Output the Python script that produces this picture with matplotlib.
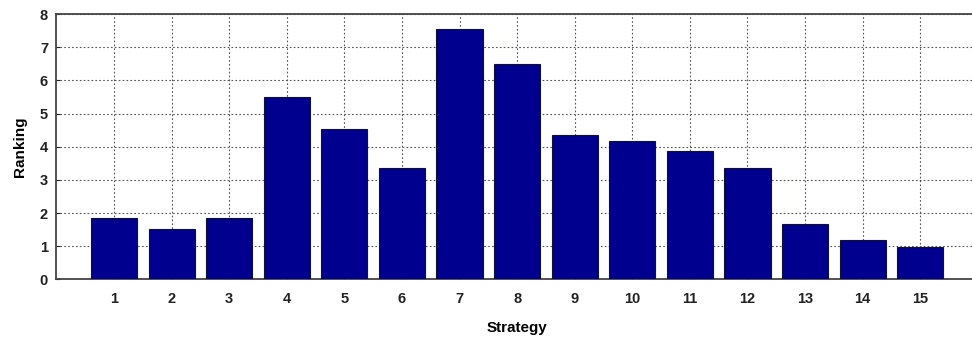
import matplotlib.pyplot as plt
import numpy as np

# Ranking per strategy
strategies = np.arange(1, 16)
ranking = [1.84, 1.51, 1.84, 5.51, 4.52, 3.35, 7.54, 6.51, 4.35, 4.17, 3.87, 3.35, 1.68, 1.18, 0.98]
y_ticks = list(range(0, 9))

plt.rcParams['font.family'] = ['Liberation Sans', 'DejaVu Sans']

fig = plt.figure(figsize=(9.72, 3.44), dpi=100)
ax = fig.add_axes([0.058, 0.188, 0.948, 0.771])

ax.bar(strategies, ranking, width=0.8, color="#00008F", edgecolor="#101030", linewidth=0.8, zorder=3)

ax.set_xlim(0, 16)
ax.set_ylim(0, 8)
ax.set_xticks(strategies)
ax.set_yticks(y_ticks)
ax.tick_params(axis="both", direction="in", length=3, labelsize=10.5, colors="#222222")
ax.tick_params(axis="x", pad=9)
ax.tick_params(axis="y", pad=6)
for lab in ax.get_xticklabels() + ax.get_yticklabels():
    lab.set_fontweight("bold")

ax.grid(True, linestyle=(0, (1.5, 2)), color="#555555", linewidth=0.8, zorder=0)

for side in ["left", "bottom", "top", "right"]:
    ax.spines[side].set_color("#444444")
    ax.spines[side].set_linewidth(1.3)

ax.set_xlabel("Strategy", fontsize=11, fontweight="bold", labelpad=11)
ax.set_ylabel("Ranking", fontsize=11, fontweight="bold", labelpad=9)

fig.savefig("out.png", dpi=100)
